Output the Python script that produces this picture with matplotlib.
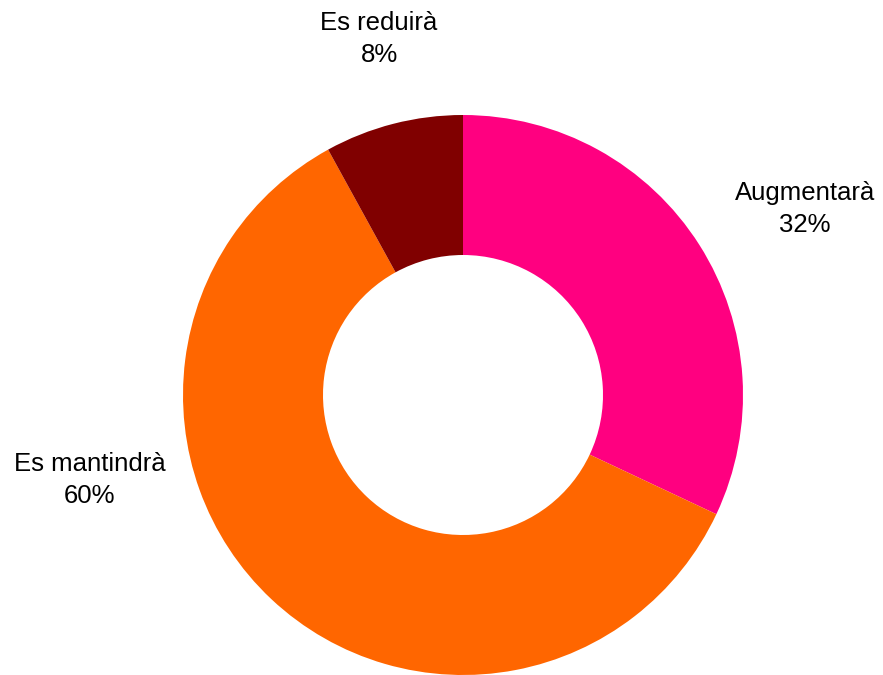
import matplotlib
matplotlib.use("Agg")
import matplotlib.pyplot as plt

# Dades
categories = ["Augmentarà", "Es mantindrà", "Es reduirà"]
valors = [32, 60, 8]
colors = ["#FF0080", "#FF6600", "#800000"]

plt.rcParams["font.family"] = ["Liberation Sans", "DejaVu Sans"]

fig = plt.figure(figsize=(8.83, 6.75), dpi=100)
ax = fig.add_axes([0, 0, 1, 1])
ax.set_aspect("equal")
ax.axis("off")

# Donut: centre i radi en píxels
ax.pie(valors, colors=colors, startangle=90, counterclock=False,
       center=(463, 280), radius=280,
       wedgeprops=dict(width=140, edgecolor="none"))
ax.set_xlim(0, 883)
ax.set_ylim(0, 675)

# Etiquetes
posicions = [(805, 466), (89.5, 195), (379, 636)]
for cat, val, (x, y) in zip(categories, valors, posicions):
    ax.text(x, y, f"{cat}\n{val}%", ha="center", va="center",
            fontsize=18.5, linespacing=1.4, color="black")

fig.savefig("out.png", dpi=100)
